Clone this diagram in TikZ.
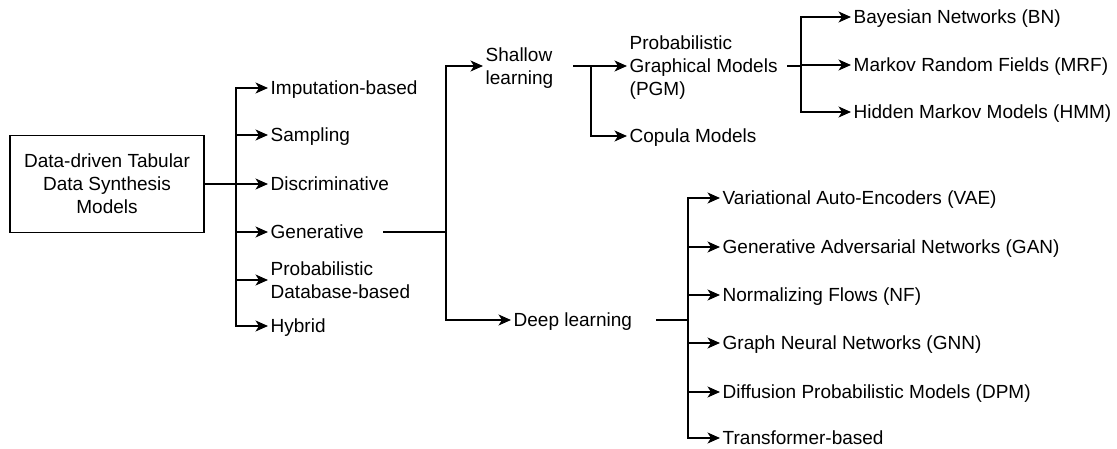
\documentclass[tikz,border=0pt]{standalone}
\usepackage{fontspec}
\setmainfont{Liberation Sans}
\usetikzlibrary{arrows.meta}
\newcommand\mytx[1]{\smash{#1}\rule{0pt}{13.2pt}}
\begin{document}
\begin{tikzpicture}[x=1pt,y=-1pt,line width=1.4pt,
  lbl/.style={anchor=west,inner xsep=2pt,inner ysep=0pt,align=left,font=\fontsize{19}{23}\selectfont},
  rootbox/.style={draw,minimum width=194pt,minimum height=97pt,align=center,inner sep=0pt,font=\fontsize{19}{23}\selectfont},
  arr/.style={-{Stealth[length=12.5pt,width=11pt,inset=3.5pt]}}]
\useasboundingbox (0,0) rectangle (1117,449);

% root
\node[rootbox] (root) at (107,184) {\mytx{Data-driven Tabular}\\\mytx{Data Synthesis}\\\mytx{Models}};

% level 1
\node[lbl] (imp)  at (268,88)  {\mytx{Imputation-based}};
\node[lbl] (samp) at (268,135) {\mytx{Sampling}};
\node[lbl] (disc) at (268,184) {\mytx{Discriminative}};
\node[lbl] (gen)  at (268,232) {\mytx{Generative}};
\node[lbl] (pdb)  at (268,280) {\mytx{Probabilistic}\\\mytx{Database-based}};
\node[lbl] (hyb)  at (268,326) {\mytx{Hybrid}};

% level 2
\node[lbl] (sh) at (483,66)  {\mytx{Shallow}\\\mytx{learning}};
\node[lbl] (dl) at (511,320) {\mytx{Deep learning}};

% shallow children
\node[lbl] (pgm) at (627,66)  {\mytx{Probabilistic}\\\mytx{Graphical Models}\\\mytx{(PGM)}};
\node[lbl] (cop) at (627,136) {\mytx{Copula Models}};

% PGM children
\node[lbl] (bn)  at (851,17)  {\mytx{Bayesian Networks (BN)}};
\node[lbl] (mrf) at (851,65)  {\mytx{Markov Random Fields (MRF)}};
\node[lbl] (hmm) at (851,112) {\mytx{Hidden Markov Models (HMM)}};

% deep children
\node[lbl] (vae) at (720,198) {\mytx{Variational Auto-Encoders (VAE)}};
\node[lbl] (gan) at (720,247) {\mytx{Generative Adversarial Networks (GAN)}};
\node[lbl] (nf)  at (720,295) {\mytx{Normalizing Flows (NF)}};
\node[lbl] (gnn) at (720,343) {\mytx{Graph Neural Networks (GNN)}};
\node[lbl] (dpm) at (720,392) {\mytx{Diffusion Probabilistic Models (DPM)}};
\node[lbl] (trf) at (720,438) {\mytx{Transformer-based}};

% branch coordinates
\coordinate (b0) at (236,184);
\coordinate (g0) at (383,232);
\coordinate (b1) at (446,232);
\coordinate (s0) at (573,66);
\coordinate (b2) at (591,66);
\coordinate (p0) at (787,66);
\coordinate (b3) at (801,66);
\coordinate (d0) at (656,320);
\coordinate (b4) at (688,320);

% connectors
\draw (root.east) -- (b0);
\foreach \n in {imp,samp,disc,gen,pdb,hyb} \draw[arr] (b0) |- (\n.west);

\draw (g0) -- (b1);
\foreach \n in {sh,dl} \draw[arr] (b1) |- (\n.west);

\draw (s0) -- (b2);
\foreach \n in {pgm,cop} \draw[arr] (b2) |- (\n.west);

\draw (p0) -- (b3);
\foreach \n in {bn,mrf,hmm} \draw[arr] (b3) |- (\n.west);

\draw (d0) -- (b4);
\foreach \n in {vae,gan,nf,gnn,dpm,trf} \draw[arr] (b4) |- (\n.west);
\end{tikzpicture}
\end{document}
